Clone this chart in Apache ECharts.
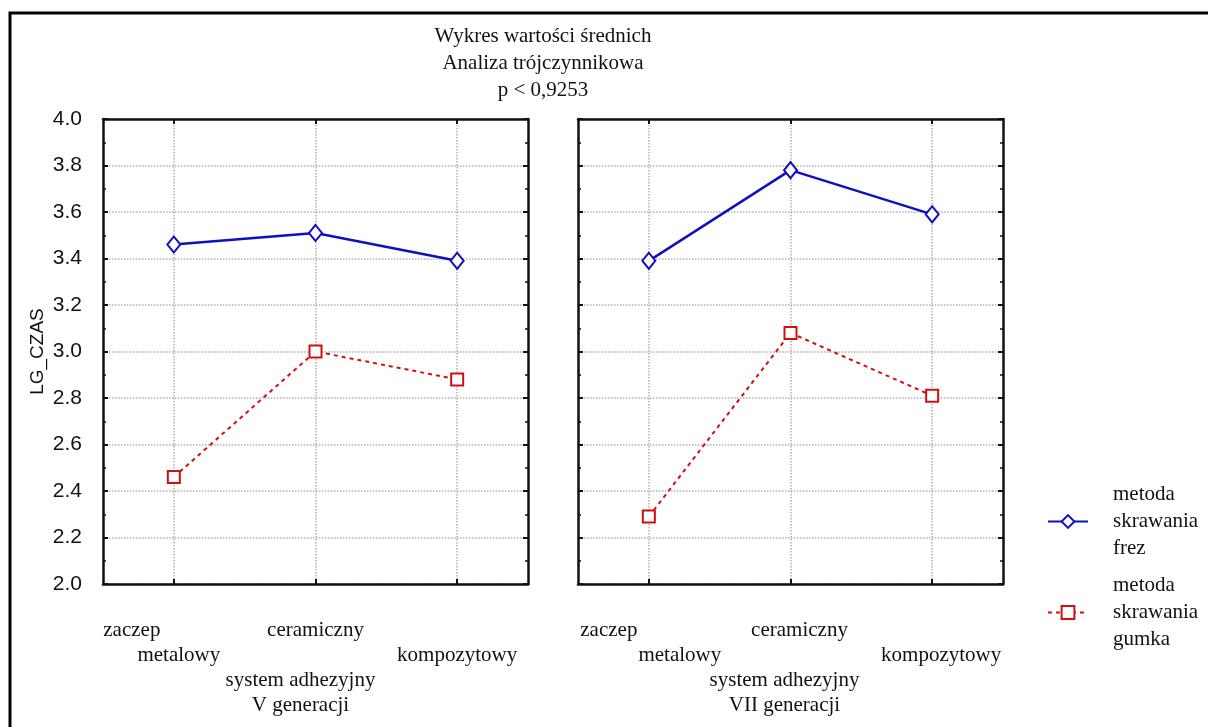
<!DOCTYPE html>
<html>
<head>
<meta charset="utf-8">
<script src="https://cdn.jsdelivr.net/npm/echarts@6/dist/echarts.min.js"></script>
<style>
    html, body { margin: 0; padding: 0; background: #fff; }
    #chart { width: 1208px; height: 727px; }
</style>
</head>
<body>
<div id="chart"></div>
<script>
// dane
var categories = ['zaczep metalowy', 'ceramiczny', 'kompozytowy'];
var frezV = [3.46, 3.51, 3.39];
var gumkaV = [2.46, 3.00, 2.88];
var frezVII = [3.39, 3.78, 3.59];
var gumkaVII = [2.29, 3.08, 2.81];
var seriesNames = ['metoda\nskrawania\nfrez', 'metoda\nskrawania\ngumka'];
var panelNames = ['system adhezyjny\nV generacji', 'system adhezyjny\nVII generacji'];
var yMin = 2.0, yMax = 4.0, yStep = 0.2;

var BLUE = '#1010c0';
var RED = '#d01010';
var SERIF = '"Liberation Serif", "DejaVu Serif", serif';
var SANS = '"Liberation Sans", Arial, sans-serif';
var FS = 21;

var myChart = echarts.init(document.getElementById('chart'));

function catLabel(shift) {
    // etykiety schodkowe jak w oryginale
    var base = { fontFamily: SERIF, fontSize: FS, lineHeight: 25, color: '#111' };
    return {
        interval: 0,
        margin: 34,
        color: '#111',
        fontFamily: SERIF,
        fontSize: FS,
        lineHeight: 25,
        formatter: function (val, idx) {
            if (idx === 0) return '{z|zaczep}\n{m|metalowy}';
            if (idx === 1) return '{t|ceramiczny}';
            return '{t| }\n{t|kompozytowy}';
        },
        rich: {
            z: Object.assign({ padding: [0, shift.z, 0, 0] }, base),
            m: Object.assign({ padding: [0, 0, 0, shift.m] }, base),
            t: Object.assign({ padding: [0, 0, 0, shift.t] }, base)
        }
    };
}

function bottomAxis(gi, shift, name, namePad) {
    return {
        type: 'category',
        gridIndex: gi,
        data: categories,
        boundaryGap: true,
        name: name,
        nameLocation: 'middle',
        nameGap: 84,
        nameMoveOverlap: false,
        nameTextStyle: { fontFamily: SERIF, fontSize: FS, lineHeight: 25, color: '#111', padding: namePad },
        axisLine: { lineStyle: { color: '#111', width: 2.5 } },
        axisTick: { show: true, inside: true, alignWithLabel: true, length: 5, lineStyle: { color: '#111', width: 2 } },
        axisLabel: catLabel(shift),
        splitLine: { show: true, alignWithLabel: true, lineStyle: { color: '#b0b0b0', type: 'dotted', width: 1.5 } }
    };
}

function topAxis(gi) {
    return {
        type: 'category',
        gridIndex: gi,
        data: categories,
        position: 'top',
        boundaryGap: true,
        axisLine: { lineStyle: { color: '#111', width: 2.5 } },
        axisTick: { show: true, inside: true, alignWithLabel: true, length: 5, lineStyle: { color: '#111', width: 2 } },
        axisLabel: { show: false },
        splitLine: { show: false }
    };
}

function yAxis(gi, pos, showLabels) {
    return {
        type: 'value',
        gridIndex: gi,
        position: pos,
        min: yMin,
        max: yMax,
        interval: yStep,
        name: (gi === 0 && pos === 'left') ? 'LG_CZAS' : '',
        nameLocation: 'middle',
        nameGap: 56,
        nameMoveOverlap: false,
        nameTextStyle: { fontFamily: SANS, fontSize: 19, color: '#111' },
        axisLine: { show: true, lineStyle: { color: '#111', width: 2.5 } },
        axisTick: { show: true, inside: true, length: 5, lineStyle: { color: '#111', width: 2 } },
        minorTick: { show: true, splitNumber: 2, length: 3, lineStyle: { color: '#111', width: 1.5 } },
        axisLabel: {
            show: showLabels,
            margin: 21,
            color: '#111',
            fontFamily: SANS,
            fontSize: 21,
            formatter: function (v) { return v.toFixed(1); }
        },
        splitLine: { show: pos === 'left', lineStyle: { color: '#b0b0b0', type: 'dotted', width: 1.5 } }
    };
}

function lineSeries(name, data, xi, yi, color, dashed, symbol, size) {
    return {
        type: 'line',
        name: name,
        data: data,
        xAxisIndex: xi,
        yAxisIndex: yi,
        symbol: symbol,
        symbolSize: size,
        showAllSymbol: true,
        z: 5,
        itemStyle: { color: color, borderWidth: 2 },
        lineStyle: { color: color, width: dashed ? 2 : 2.5, type: dashed ? [4, 4] : 'solid' }
    };
}

var option = {
    backgroundColor: '#fff',
    animation: false,
    title: {
        text: 'Wykres wartości średnich\nAnaliza trójczynnikowa\np < 0,9253',
        left: 538,
        top: 18,
        textAlign: 'center',
        textStyle: { fontFamily: SERIF, fontSize: 21, fontWeight: 'normal', color: '#111', lineHeight: 27 }
    },
    legend: {
        orient: 'vertical',
        left: 1042,
        top: 476,
        itemWidth: 40,
        itemHeight: 16,
        itemGap: 10,
        data: seriesNames,
        textStyle: { fontFamily: SERIF, fontSize: FS, lineHeight: 27, color: '#111', padding: [0, 0, 0, 20] }
    },
    graphic: [{
        type: 'rect',
        shape: { x: 10, y: 13, width: 1300, height: 800 },
        style: { fill: 'none', stroke: '#000', lineWidth: 3 },
        silent: true
    }],
    grid: [
        { left: 103, right: 680, top: 119, bottom: 143 },
        { left: 578, right: 205, top: 119, bottom: 143 }
    ],
    xAxis: [
        bottomAxis(0, { z: 84, m: 10, t: 0 }, panelNames[0], [0, 30, 0, 0]),
        bottomAxis(1, { z: 80, m: 62, t: 18 }, panelNames[1], [0, 12, 0, 0]),
        topAxis(0),
        topAxis(1)
    ],
    yAxis: [
        yAxis(0, 'left', true),
        yAxis(1, 'left', false),
        yAxis(0, 'right', false),
        yAxis(1, 'right', false)
    ],
    series: [
        lineSeries(seriesNames[0], frezV, 0, 0, BLUE, false, 'emptyDiamond', [13, 16]),
        lineSeries(seriesNames[1], gumkaV, 0, 0, RED, true, 'emptyRect', 12),
        lineSeries(seriesNames[0], frezVII, 1, 1, BLUE, false, 'emptyDiamond', [13, 16]),
        lineSeries(seriesNames[1], gumkaVII, 1, 1, RED, true, 'emptyRect', 12)
    ]
};

myChart.setOption(option);
</script>
</body>
</html>
